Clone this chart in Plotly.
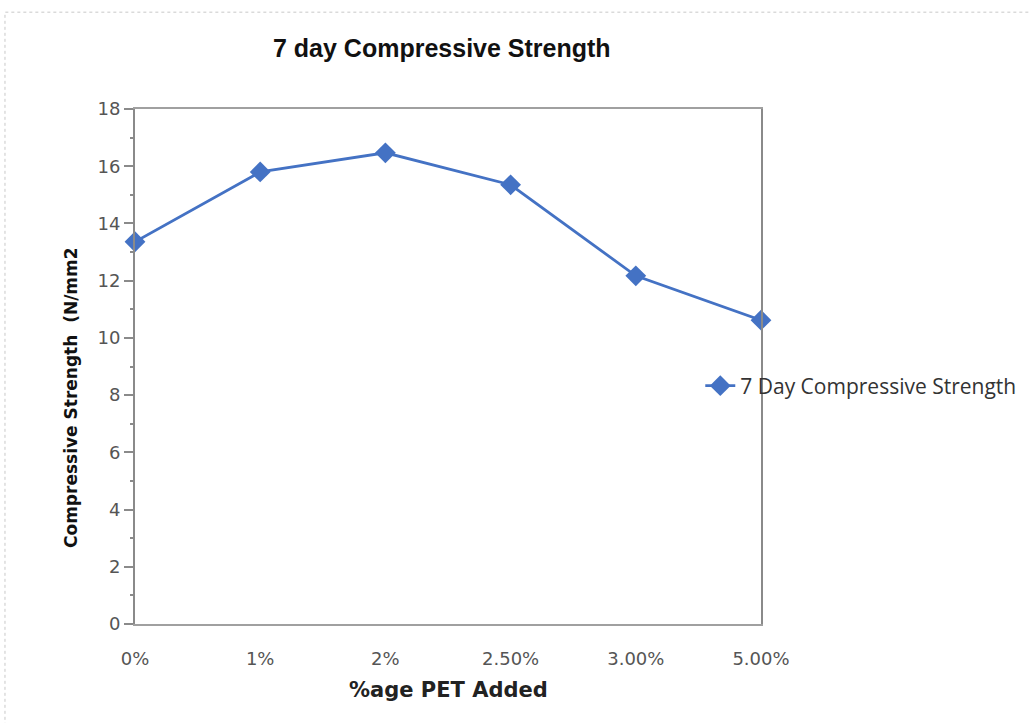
import plotly.graph_objects as go

# PET dosage categories and 7-day compressive strength (N/mm2)
pet_labels = ["0%", "1%", "2%", "2.50%", "3.00%", "5.00%"]
strength_7day = [13.36, 15.8, 16.47, 15.35, 12.17, 10.62]
y_ticks = [0, 2, 4, 6, 8, 10, 12, 14, 16, 18]

series_name = "7 Day Compressive Strength"
line_blue = "#4472C4"

positions = list(range(len(pet_labels)))

fig = go.Figure()
fig.add_trace(go.Scatter(
    x=positions,
    y=strength_7day,
    mode="lines+markers",
    name=series_name,
    line=dict(color=line_blue, width=2.8),
    marker=dict(symbol="diamond", size=16, color=line_blue),
    cliponaxis=False,
    showlegend=True,
))

fig.update_layout(
    width=1029,
    height=723,
    margin=dict(l=135, r=268, t=109, b=99, autoexpand=False),
    paper_bgcolor="white",
    plot_bgcolor="white",
    font=dict(family="DejaVu Sans", color="#555555"),
    showlegend=True,
    legend=dict(
        x=0.903, y=0.462, xanchor="left", yanchor="middle",
        bgcolor="rgba(0,0,0,0)",
        font=dict(family="Open Sans", size=21, color="#333333"),
        itemwidth=30,
    ),
    xaxis=dict(
        range=[0, 5],
        tickvals=positions,
        ticktext=pet_labels,
        showgrid=False,
        zeroline=False,
        showline=True,
        linecolor="#a0a0a0",
        linewidth=1.5,
        mirror=True,
        ticks="",
        ticklabelstandoff=18,
        tickfont=dict(family="DejaVu Sans", size=18, color="#555555"),
    ),
    yaxis=dict(
        range=[0, 18],
        tickvals=y_ticks,
        showgrid=False,
        zeroline=False,
        showline=True,
        linecolor="#8a8a8a",
        linewidth=2,
        mirror=True,
        ticks="outside",
        ticklen=9,
        tickcolor="#8a8a8a",
        tickwidth=1.5,
        tickfont=dict(family="DejaVu Sans", size=18, color="#555555"),
        minor=dict(ticks="outside", ticklen=3, tickcolor="#8a8a8a", dtick=1),
    ),
)

# outer frame of the figure panel
fig.add_shape(
    type="rect", xref="paper", yref="paper",
    x0=-0.2077, y0=-0.5, x1=2.0, y1=1.188,
    line=dict(color="#c8c8c8", width=1, dash="dot"),
    layer="below",
)

# chart title
fig.add_annotation(
    text="<b>7 day Compressive Strength</b>", xref="paper", yref="paper",
    x=(442 - 135) / 626, y=(624 - 48) / 515, xanchor="center", yanchor="middle",
    showarrow=False,
    font=dict(family="Liberation Sans", size=25, color="#111111"),
)

# y-axis title
fig.add_annotation(
    text="<b>Compressive Strength  (N/mm2</b>", xref="paper", yref="paper",
    x=(71 - 135) / 626, y=(624 - 398) / 515, xanchor="center", yanchor="middle",
    textangle=-90, showarrow=False,
    font=dict(family="DejaVu Sans", size=17, color="#111111"),
)

# x-axis title
fig.add_annotation(
    text="<b>%age PET Added</b>", xref="paper", yref="paper",
    x=(448 - 135) / 626, y=(624 - 690) / 515, xanchor="center", yanchor="middle",
    showarrow=False,
    font=dict(family="DejaVu Sans", size=21, color="#222222"),
)

fig.write_html("out.html")
